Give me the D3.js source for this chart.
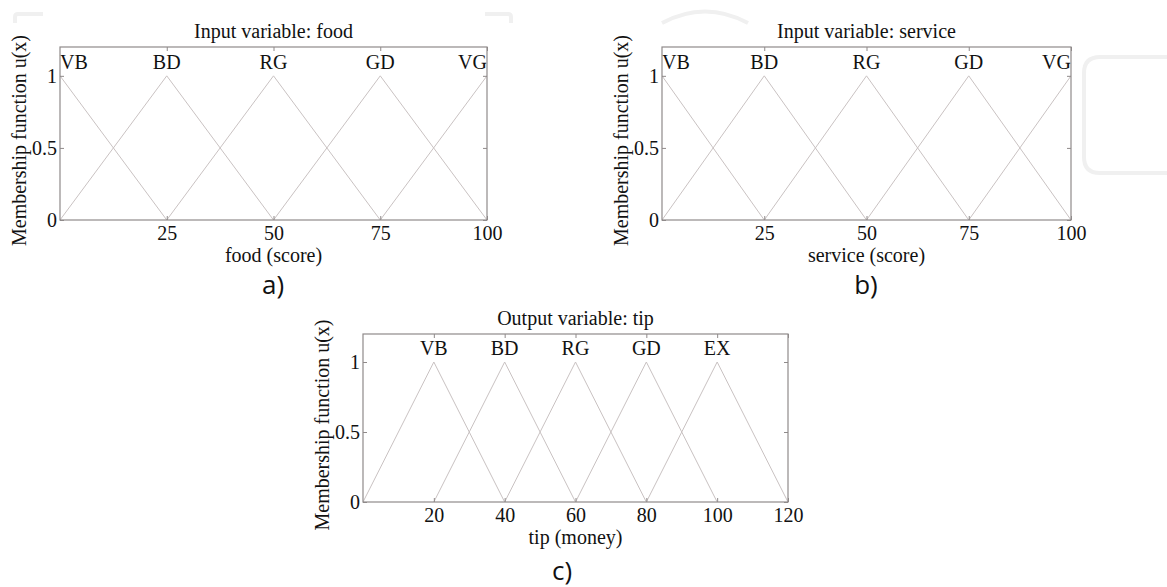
<!DOCTYPE html>
<html>
<head>
<meta charset="utf-8">
<script src="https://d3js.org/d3.v7.min.js"></script>
<style>
    body { margin: 0; background: #fff; }
    svg { display: block; }
</style>
</head>
<body>
<svg id="chart" width="1167" height="587"></svg>
<script>
// membership function terms and their triangle parameters [a, peak, c]
const scoreTerms = ['VB', 'BD', 'RG', 'GD', 'VG']
const scoreParams = [[-25, 0, 25], [0, 25, 50], [25, 50, 75], [50, 75, 100], [75, 100, 125]]
const tipTerms = ['VB', 'BD', 'RG', 'GD', 'EX']
const tipParams = [[0, 20, 40], [20, 40, 60], [40, 60, 80], [60, 80, 100], [80, 100, 120]]

const scoreTicks = [25, 50, 75, 100]
const tipTicks = [20, 40, 60, 80, 100, 120]
const yTicks = [0, 0.5, 1]

const serif = '"Liberation Serif", "Times New Roman", serif'
const frameColour = '#8f8a8a'
const lineColour = '#c9c2c2'
const fontSize = '20px'

const svg = d3.select('#chart')

// faint watermark outlines from the source image
const deco = svg.append('g').attr('fill', 'none').attr('stroke', '#f0f0f0').attr('stroke-width', 4)
deco.append('path').attr('d', 'M15,23 V17 Q15,14 18,14 H43')
deco.append('path').attr('d', 'M485,14 H508 Q511,14 511,17 V23')
deco.append('path').attr('d', 'M662,23 Q705,0 748,23')
deco.append('path').attr('d', 'M1167,57 H1100 Q1084,57 1084,73 V157 Q1084,173 1100,173 H1167')

const addPanel = ({ left, right, top, bottom, xDomain, xTicks, terms, params, title, xLabel, panelLabel, panelX, panelY }) => {
    const x = d3.scaleLinear().domain(xDomain).range([left, right])
    const y = d3.scaleLinear().domain([0, 1.2]).range([bottom, top])
    const id = 'clip-' + panelLabel.replace(')', '')

    svg.append('clipPath').attr('id', id)
        .append('rect')
        .attr('x', left).attr('y', top)
        .attr('width', right - left).attr('height', bottom - top)

    const g = svg.append('g')

    // triangles
    const line = d3.line().x(d => x(d[0])).y(d => y(d[1]))
    g.append('g')
        .attr('clip-path', `url(#${id})`)
        .selectAll('path')
        .data(params)
        .join('path')
        .attr('d', p => line([[p[0], 0], [p[1], 1], [p[2], 0]]))
        .attr('fill', 'none')
        .attr('stroke', lineColour)
        .attr('stroke-width', 1)

    // term labels above each peak
    g.append('g')
        .selectAll('text')
        .data(params)
        .join('text')
        .attr('x', p => x(p[1]))
        .attr('y', y(1) - 7)
        .attr('text-anchor', p => p[1] <= xDomain[0] ? 'start' : (p[1] >= xDomain[1] ? 'end' : 'middle'))
        .style('font-family', serif)
        .style('font-size', fontSize)
        .attr('fill', '#111')
        .text((p, i) => terms[i])

    // axes, ticks pointing inward
    const styleAxis = (a, showText) => {
        a.select('.domain').remove()
        a.selectAll('line').attr('stroke', frameColour)
        a.selectAll('text')
            .style('font-family', serif)
            .style('font-size', fontSize)
            .attr('fill', '#111')
        if (!showText) a.selectAll('text').remove()
    }

    g.append('g')
        .attr('transform', `translate(0, ${bottom})`)
        .call(d3.axisBottom(x).tickValues(xTicks).tickSizeInner(-4).tickSizeOuter(0).tickPadding(6).tickFormat(d3.format('d')))
        .call(a => styleAxis(a, true))
    g.append('g')
        .attr('transform', `translate(0, ${top})`)
        .call(d3.axisTop(x).tickValues(xTicks).tickSizeInner(-4).tickSizeOuter(0))
        .call(a => styleAxis(a, false))
    g.append('g')
        .attr('transform', `translate(${left}, 0)`)
        .call(d3.axisLeft(y).tickValues(yTicks).tickSizeInner(-4).tickSizeOuter(0).tickPadding(3).tickFormat(d => d))
        .call(a => styleAxis(a, true))
    g.append('g')
        .attr('transform', `translate(${right}, 0)`)
        .call(d3.axisRight(y).tickValues(yTicks).tickSizeInner(-4).tickSizeOuter(0))
        .call(a => styleAxis(a, false))

    // frame
    g.append('rect')
        .attr('x', left).attr('y', top)
        .attr('width', right - left).attr('height', bottom - top)
        .attr('fill', 'none')
        .attr('stroke', frameColour)
        .attr('stroke-width', 1.2)

    const textStyle = s => s.style('font-family', serif).style('font-size', fontSize).attr('fill', '#111').attr('text-anchor', 'middle')

    g.append('text')
        .attr('x', (left + right) / 2)
        .attr('y', top - 9)
        .call(textStyle)
        .text(title)

    g.append('text')
        .attr('x', (left + right) / 2)
        .attr('y', bottom + 42)
        .call(textStyle)
        .text(xLabel)

    g.append('text')
        .attr('transform', `translate(${left - 34}, ${(top + bottom) / 2 + 7}) rotate(-90)`)
        .call(textStyle)
        .text('Membership function u(x)')

    g.append('text')
        .attr('x', panelX)
        .attr('y', panelY)
        .attr('text-anchor', 'middle')
        .style('font-family', '"Open Sans", "Noto Sans", sans-serif')
        .style('font-size', '26px')
        .attr('fill', '#111')
        .text(panelLabel)
}

addPanel({
    left: 60, right: 487, top: 47, bottom: 220,
    xDomain: [0, 100], xTicks: scoreTicks,
    terms: scoreTerms, params: scoreParams,
    title: 'Input variable: food', xLabel: 'food (score)',
    panelLabel: 'a)', panelX: 273, panelY: 294
})

addPanel({
    left: 662, right: 1071, top: 47, bottom: 220,
    xDomain: [0, 100], xTicks: scoreTicks,
    terms: scoreTerms, params: scoreParams,
    title: 'Input variable: service', xLabel: 'service (score)',
    panelLabel: 'b)', panelX: 866, panelY: 294
})

addPanel({
    left: 363, right: 788, top: 334, bottom: 502,
    xDomain: [0, 120], xTicks: tipTicks,
    terms: tipTerms, params: tipParams,
    title: 'Output variable: tip', xLabel: 'tip (money)',
    panelLabel: 'c)', panelX: 562, panelY: 580
})
</script>
</body>
</html>
